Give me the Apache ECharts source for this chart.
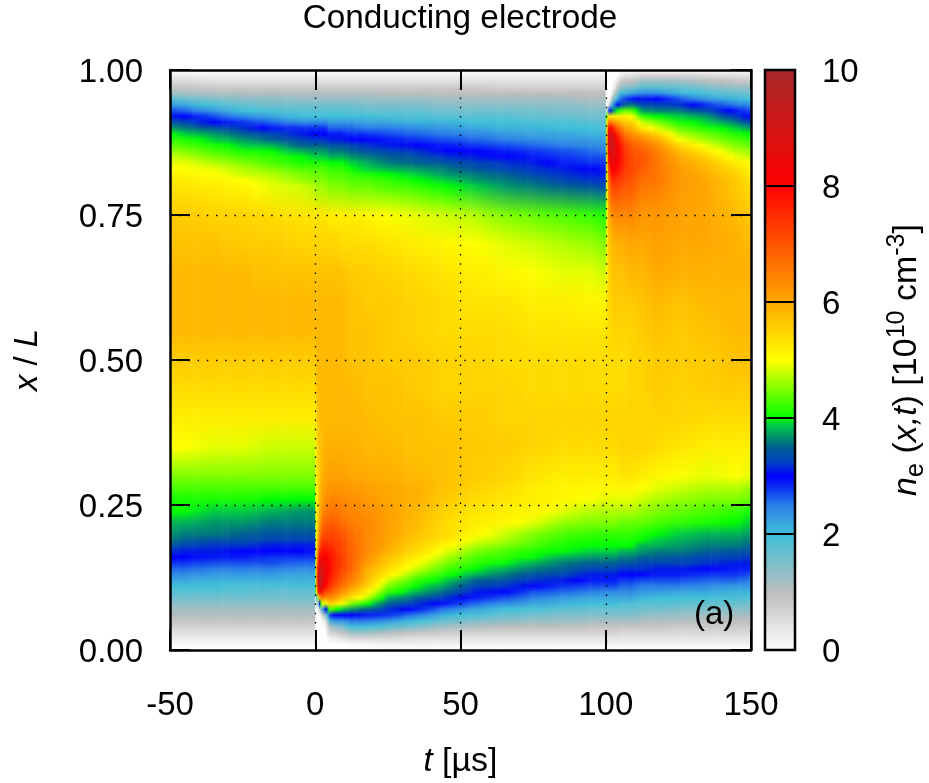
<!DOCTYPE html>
<html><head><meta charset="utf-8">
<style>html,body{margin:0;padding:0;background:#fff}#c{width:929px;height:783px}</style>
<script src="https://cdn.jsdelivr.net/npm/echarts@6/dist/echarts.min.js"></script>
</head><body><div id="c"></div>
<script>
// time of each column [µs]; columns are shaded smoothly inside a phase (pulses start at 0 and 100)
const tBefore = [-50,-45,-35,-25,-15,-5,0];
const tPulse1 = [0,0.25,0.75,1.25,1.75,2.5,3.5,5,7,9,12.5,17.5,25,35,45,55,65,75,85,95,100];
const tPulse2 = [100,100.25,100.75,101.25,101.75,102.5,103.5,105,107,109,112.5,117.5,125,135,145,150];
// x/L levels of each value in a column
const xLevels = [0,.01,.02,.03,.04,.05,.06,.07,.08,.09,.10,.11,.12,.13,.14,.15,.16,.17,.18,.19,.20,
  .22,.24,.26,.28,.30,.35,.40,.45,.50,.55,.60,.65,.70,.75,
  .80,.81,.82,.83,.84,.85,.86,.87,.88,.89,.90,.91,.92,.93,.94,.95,.96,.97,.98,.99,1];
// electron density read per column, in units of 10^9 cm^-3
const ne_m50=[0,1,3,5,7,9,11,12,14,16,18,20,22,24,26,28,30,32,34,36,37, 38,40,41,43,45,50,52,54,56,58,58,58,57,56, 53,52,51,50,49,48,46,44,42,40,37,34,31,27,23,18,12,9,6,3,0];
const ne_m45=[0,1,3,5,7,9,11,12,14,16,18,20,22,24,26,28,30,31,33,35,36, 38,40,41,43,45,50,52,54,56,58,58,58,57,56, 53,52,51,50,49,47,45,43,41,39,36,33,30,26,22,17,12,9,6,3,0];
const ne_m35=[0,1,3,5,7,9,11,12,14,16,18,20,21,23,25,27,29,31,32,34,36, 37,39,41,43,45,49,52,54,56,58,58,58,57,55, 52,51,50,49,47,45,43,41,39,37,34,30,27,23,19,15,11,8,5,3,0];
const ne_m25=[0,1,3,5,7,9,11,12,14,16,18,19,21,23,25,27,29,30,32,34,35, 37,39,41,43,45,49,52,54,56,58,58,58,56,55, 51,50,48,47,45,43,41,39,37,35,32,28,24,20,17,14,11,8,5,3,0];
const ne_m15=[0,1,3,5,7,9,11,12,14,16,17,19,21,23,25,27,28,30,31,33,34, 36,38,40,43,45,48,52,54,56,58,58,57,56,54, 49,48,47,45,43,42,40,38,35,33,29,26,22,19,16,14,11,8,5,3,0];
const ne_m05=[0,1,3,5,7,9,11,12,14,16,17,19,21,22,24,26,28,30,31,33,34, 36,37,40,43,45,48,52,54,56,58,58,57,55,53, 48,46,45,43,41,40,38,35,33,31,28,24,20,18,16,13,11,8,5,3,0];
const ne_m00=[0,1,3,5,7,9,11,12,14,16,17,19,21,22,24,26,28,29,31,33,34, 36,37,40,43,45,48,52,54,56,58,58,57,55,53, 47,45,44,43,41,39,37,35,32,30,28,24,20,18,16,13,11,8,5,3,0];
const ne_p00=[0,0,0,0,0,0,0,0,0,1,40,45,46,46,47,47,47,47,47,47,47, 48,48,49,49,50,52,54,56,57,58,58,57,55,53, 46,45,44,43,41,39,37,35,32,30,28,24,20,18,16,13,11,8,5,3,0];
const ne_p01=[0,0,0,0,0,0,0,0,10,40,70,78,82,80,74,70,66,62,58,56,55, 54,53,53,53,53,55,56,57,58,58,58,57,55,53, 46,45,44,43,41,39,37,35,32,30,28,24,20,18,16,13,11,8,5,3,0];
const ne_p02=[0,0,0,0,0,0,0,5,25,55,82,92,93,90,86,82,77,72,68,65,62, 59,57,56,55,55,56,57,58,58,58,58,57,55,53, 46,45,44,43,41,39,37,35,32,30,28,24,20,18,16,13,11,8,5,3,0];
const ne_p03=[0,0,0,0,0,0,2,12,38,62,84,92,94,93,90,86,81,77,73,70,67, 63,60,59,58,57,57,58,58,58,58,58,57,55,53, 46,45,44,43,41,39,37,35,32,30,28,24,20,18,16,13,11,8,5,3,0];
const ne_p04=[0,0,0,0,0,2,8,24,50,66,76,84,88,89,88,85,82,78,75,72,70, 66,63,61,60,59,58,58,58,58,58,58,57,55,53, 46,45,44,43,41,39,37,35,32,30,28,24,20,18,16,13,11,8,5,3,0];
const ne_p05=[0,0,0,0,1,4,14,28,48,62,72,79,82,84,84,83,81,78,76,73,71, 68,65,63,61,60,59,58,58,58,58,58,57,55,53, 46,45,44,43,41,39,37,35,32,30,28,24,20,18,16,13,11,8,5,3,0];
const ne_p06=[0,0,2,7,11,21,28,44,56,64,70,74,77,78,79,79,78,77,75,73,72, 69,66,64,62,61,59,58,58,58,58,58,57,55,52, 45,44,43,42,40,38,36,34,31,29,26,23,20,18,16,13,11,8,5,3,0];
const ne_p07=[0,0,3,8,14,23,30,41,53,61,66,70,72,74,75,75,75,74,73,72,71, 68,66,64,62,61,59,58,58,58,58,58,57,55,52, 45,44,43,42,40,38,36,34,31,29,26,23,20,18,16,13,11,8,5,3,0];
const ne_p09=[0,0,4,9,15,23,30,39,50,58,63,67,69,71,72,73,73,72,72,71,70, 67,65,64,62,61,59,58,58,58,58,58,57,54,52, 45,44,43,42,40,38,36,34,31,29,26,23,20,18,16,13,11,8,5,3,0];
const ne_p12=[0,1,6,13,20,25,30,37,45,53,58,62,65,66,68,68,68,68,68,67,67, 65,64,63,62,60,59,58,58,57,57,57,56,54,52, 44,43,42,40,39,37,35,33,30,28,26,23,20,18,16,13,11,8,5,3,0];
const ne_p17=[0,1,6,13,20,25,29,35,41,48,52,56,58,59,60,62,63,64,64,64,64, 64,63,62,61,60,58,58,57,57,57,56,56,54,51, 44,43,41,39,38,36,34,32,30,28,25,22,20,17,15,13,11,8,5,3,0];
const ne_p25=[0,2,6,11,18,23,28,32,35,38,42,45,48,52,54,56,57,59,60,60,61, 61,61,60,60,59,58,57,57,56,56,56,55,53,50, 43,42,40,38,36,35,33,31,29,27,25,22,19,17,15,13,10,8,5,3,0];
const ne_p35=[0,2,5,9,15,20,25,29,32,35,38,40,42,45,48,50,52,54,55,56,57, 58,58,59,59,58,57,57,56,56,55,55,54,52,49, 42,40,39,37,35,34,32,30,28,26,24,21,19,17,15,13,10,8,5,3,0];
const ne_p45=[0,2,5,8,12,17,21,25,29,32,35,37,39,41,43,45,47,49,51,53,54, 54,55,56,57,57,57,56,55,55,54,54,53,51,48, 40,39,37,36,34,32,30,29,27,25,23,21,18,16,14,12,10,8,5,3,0];
const ne_p55=[0,2,4,7,11,15,19,22,26,29,31,33,35,38,40,42,43,45,47,49,51, 52,53,54,55,56,56,56,55,55,54,53,52,50,47, 39,37,36,34,33,31,30,28,26,24,22,20,18,16,14,12,10,8,5,3,0];
const ne_p65=[0,2,4,7,10,14,17,20,24,27,30,32,34,36,38,40,42,43,45,47,48, 51,52,53,54,55,56,55,55,54,54,53,51,49,45, 37,36,35,33,32,30,29,27,25,23,21,20,18,16,14,12,10,7,5,3,0];
const ne_p75=[0,2,4,7,10,13,16,19,22,25,27,30,32,34,36,38,40,41,43,44,45, 49,51,52,52,53,55,55,54,54,53,52,50,48,44, 36,35,33,32,31,29,28,26,24,22,21,19,17,16,14,12,10,7,5,3,0];
const ne_p85=[0,2,4,7,10,13,15,18,21,23,26,28,31,33,35,36,38,40,41,42,43, 46,49,51,51,52,54,55,54,54,53,52,49,47,43, 35,33,32,31,29,28,27,25,23,22,20,19,17,15,14,12,10,7,5,3,0];
const ne_p95=[0,2,4,7,9,12,15,17,20,22,25,27,29,31,33,35,37,39,40,41,42, 45,47,50,51,52,54,55,54,54,53,51,49,46,42, 34,32,31,30,28,27,26,24,23,21,20,18,16,15,13,11,10,7,5,3,0];
const ne_p100=[0,2,4,7,9,12,15,17,20,22,24,27,29,31,33,35,37,39,40,41,42, 45,47,49,51,52,54,55,54,54,53,51,48,45,41, 33,32,31,29,28,27,25,24,22,21,19,18,16,15,13,11,10,7,5,3,0];
const ne_q00=[0,2,4,7,9,12,15,17,20,22,24,27,29,31,33,35,37,39,40,41,42, 45,47,49,51,52,54,55,54,54,53,53,50,48,46, 46,46,46,46,46,46,46,46,46,46,46,46,40,2,0,0,0,0,0,0,0];
const ne_q01=[0,2,4,7,9,12,15,17,20,22,24,27,29,31,33,35,37,39,40,41,42, 45,47,49,51,52,54,55,54,54,54,54,54,55,57, 61,62,64,67,70,73,76,79,81,80,72,62,52,24,2,0,0,0,0,0,0];
const ne_q02=[0,2,4,7,9,12,15,17,20,22,24,27,29,31,33,35,37,39,40,41,42, 45,47,49,51,52,54,55,54,54,54,55,55,56,60, 66,68,71,74,78,82,86,89,90,88,80,66,52,28,6,0,0,0,0,0,0];
const ne_q03=[0,2,4,7,9,12,15,17,20,22,24,27,29,31,33,35,37,39,40,41,42, 45,47,49,51,52,54,55,54,54,54,55,56,57,62, 70,73,76,80,84,87,90,92,92,89,80,66,52,33,18,5,0,0,0,0,0];
const ne_q04=[0,2,4,7,9,12,15,17,20,22,24,27,29,31,33,35,37,39,40,41,42, 45,47,49,51,52,54,55,54,54,55,56,57,58,63, 72,75,78,82,85,87,89,90,89,85,76,64,52,36,23,14,5,1,0,0,0];
const ne_q05=[0,2,4,7,9,12,15,17,20,22,24,27,29,31,33,35,37,39,40,41,42, 45,47,49,51,52,54,55,54,54,55,56,57,59,64, 72,74,77,80,82,83,84,84,82,77,70,61,52,39,28,19,11,6,2,0,0];
const ne_q06=[0,2,4,6,9,12,15,17,19,22,24,26,28,30,32,34,36,38,40,41,42, 44,47,49,51,53,55,55,54,54,55,56,57,59,64, 71,73,75,77,78,79,79,78,75,71,66,59,52,42,32,26,20,13,8,3,0];
const ne_q07=[0,2,4,6,9,12,15,17,19,22,24,26,28,30,32,34,36,38,40,41,42, 44,47,49,51,53,55,55,54,54,55,56,58,60,64, 70,71,72,73,74,74,73,72,69,65,60,56,51,44,35,28,21,15,10,5,0];
const ne_q09=[0,2,4,6,9,12,15,17,19,22,24,26,28,30,32,34,36,38,40,41,42, 44,47,49,51,53,55,55,55,55,55,56,58,60,64, 69,70,71,71,71,71,70,69,66,63,59,55,50,43,36,29,22,15,10,5,0];
const ne_q12=[0,2,4,6,9,11,14,16,18,21,23,25,27,30,32,33,35,37,38,40,41, 44,46,48,50,52,55,55,55,55,56,57,58,60,62, 66,67,68,69,70,70,69,67,64,59,52,48,42,37,33,31,24,18,13,7,0];
const ne_q17=[0,2,4,6,9,11,13,16,18,20,23,25,27,29,31,33,35,36,38,39,40, 43,45,47,49,51,54,55,56,56,57,58,60,61,62, 65,66,66,66,66,66,65,63,60,55,49,45,40,36,33,30,24,18,13,7,0];
const ne_q25=[0,2,4,6,8,11,13,15,18,20,22,25,27,29,31,33,34,36,37,38,39, 42,44,46,48,50,53,55,55,56,56,57,59,60,61, 62,62,62,62,61,60,58,55,50,47,44,41,39,36,32,27,21,17,13,7,0];
const ne_q35=[0,2,4,6,8,10,12,15,17,20,22,24,26,28,30,32,33,35,36,37,38, 41,43,45,47,49,52,54,56,56,57,58,59,60,60, 60,60,59,58,57,55,52,49,46,44,41,39,37,33,28,23,19,15,11,6,0];
const ne_q45=[0,2,4,6,8,10,12,14,17,19,21,23,26,28,29,31,33,34,36,37,38, 40,42,45,47,50,52,54,56,57,58,58,59,59,58, 56,56,55,54,52,49,47,45,43,41,39,36,32,29,25,21,17,13,9,5,0];
const ne_q50=[0,2,4,6,8,10,12,14,16,19,21,23,25,27,29,31,32,34,35,36,37, 39,41,44,46,49,52,54,56,57,58,58,59,58,56, 54,53,52,51,50,48,46,44,42,40,37,33,30,27,24,20,16,13,9,5,0];
const colsBefore = [ne_m50,ne_m45,ne_m35,ne_m25,ne_m15,ne_m05,ne_m00];
const colsPulse1 = [ne_p00,ne_p00,ne_p01,ne_p02,ne_p03,ne_p04,ne_p05,ne_p06,ne_p07,ne_p09,ne_p12,ne_p17,ne_p25,ne_p35,ne_p45,ne_p55,ne_p65,ne_p75,ne_p85,ne_p95,ne_p100];
const colsPulse2 = [ne_q00,ne_q00,ne_q01,ne_q02,ne_q03,ne_q04,ne_q05,ne_q06,ne_q07,ne_q09,ne_q12,ne_q17,ne_q25,ne_q35,ne_q45,ne_q50];
// colour scale
const paletteValues = [0,1,2,2.25,2.5,2.75,3,3.25,3.5,3.9,4,5,6,8,10];
const paletteColors = ['#ffffff','#bebebe','#40c0d8','#38a0e0','#2a80e8','#1040f0','#0000ff','#0040c0','#006090','#00d040','#00ff00','#ffff00','#ffa800','#ff0000','#a52a2a'];
const colorbarTicks = [2,4,6,8];
const tTicks = {min:-50,max:150,interval:50};
const xTicks = {min:0,max:1,interval:0.25};

const FONT = '"Liberation Sans", Arial, sans-serif';
function hex(c){return [1,3,5].map(i=>parseInt(c.substr(i,2),16));}
function colorOf(v){
  let i=0; while(i<paletteValues.length-2 && v>paletteValues[i+1]) i++;
  const f=Math.min(1,Math.max(0,(v-paletteValues[i])/(paletteValues[i+1]-paletteValues[i])));
  const a=hex(paletteColors[i]),b=hex(paletteColors[i+1]);
  return 'rgb('+a.map((q,k)=>Math.round(q+(b[k]-q)*f)).join(',')+')';
}
// one data item per pair of neighbouring columns in a phase
const spans=[];
[[tBefore,colsBefore],[tPulse1,colsPulse1],[tPulse2,colsPulse2]].forEach(([ts,cs])=>{
  for(let i=0;i+1<ts.length;i++) spans.push({t0:ts[i],t1:ts[i+1],a:cs[i],b:cs[i+1]});
});
const cellData = spans.map((s,i)=>[s.t0,s.t1,i]);
const axisBase = {type:'value',z:10,
  axisLine:{show:true,onZero:false,lineStyle:{color:'#000',width:2.5}},
  axisTick:{show:true,inside:true,length:20,lineStyle:{color:'#000',width:2}},
  axisLabel:{color:'#000',fontFamily:FONT,fontSize:33},
  splitLine:{show:false},nameTextStyle:{color:'#000',fontFamily:FONT,fontSize:33}};
const dots = {show:true,showMinLine:false,showMaxLine:false,lineStyle:{color:'#000',width:1.3,type:[1.5,7.7]}};
const rt = (o)=>Object.assign({fontFamily:FONT,color:'#000',fontSize:33,lineHeight:50,verticalAlign:'middle'},o||{});
const tickRich = {a:{fontFamily:FONT,color:'#000',fontSize:33,padding:[5,0,0,0]}};
const chart = echarts.init(document.getElementById('c'),null,{renderer:'canvas'});
chart.setOption({
  animation:false,backgroundColor:'#fff',
  title:{text:'Conducting electrode',left:455,textAlign:'center',top:-3,textStyle:{fontFamily:FONT,fontSize:33.3,fontWeight:'normal',color:'#000'}},
  grid:[{left:170,right:178,top:70,bottom:133,outerBoundsMode:'none'},{left:765,width:30,top:70,bottom:133,outerBoundsMode:'none'}],
  xAxis:[
    Object.assign({},axisBase,tTicks,{gridIndex:0,position:'bottom',splitLine:dots,axisLabel:Object.assign({},axisBase.axisLabel,{margin:39}),
      name:'{i|t}{r| [µs]}',nameLocation:'middle',nameGap:87,nameTextStyle:{rich:{i:rt({fontStyle:'italic'}),r:rt({fontSize:34})}}}),
    Object.assign({},axisBase,tTicks,{gridIndex:0,position:'top',axisLabel:{show:false}}),
    {type:'value',gridIndex:1,min:0,max:1,show:false}
  ],
  yAxis:[
    Object.assign({},axisBase,xTicks,{gridIndex:0,position:'left',splitLine:dots,axisLabel:Object.assign({},axisBase.axisLabel,{margin:27,rich:tickRich,formatter:v=>'{a|'+v.toFixed(2)+'}'}),
      name:'{i|x}{r| / }{i|L}',nameLocation:'middle',nameGap:117,nameRotate:90,nameTextStyle:{rich:{i:rt({fontStyle:'italic'}),r:rt()}}}),
    Object.assign({},axisBase,xTicks,{gridIndex:0,position:'right',axisLabel:{show:false}}),
    Object.assign({},axisBase,{gridIndex:1,min:0,max:10,interval:2,position:'right',
      axisLine:{show:false},axisTick:{show:false},
      axisLabel:Object.assign({},axisBase.axisLabel,{margin:27,rich:tickRich,formatter:v=>'{a|'+v+'}'}),
      name:'{i|n}{sub|e}{r| (}{i|x,t}{r|) [10}{sup|10}{r| cm}{sup|-3}{r|]}',nameLocation:'middle',nameGap:90,nameRotate:90,
      nameTextStyle:{rich:{i:rt({fontStyle:'italic',fontSize:34,lineHeight:44}),r:rt({fontSize:34,lineHeight:44}),sub:rt({fontSize:25,lineHeight:44,verticalAlign:'bottom'}),sup:rt({fontSize:25,lineHeight:44,verticalAlign:'top'})}}})
  ],
  graphic:[{type:'text',left:694,top:598,z:20,style:{text:'(a)',fontFamily:FONT,fontSize:33,fill:'#000'}}],
  series:[
    {type:'custom',xAxisIndex:0,yAxisIndex:0,z:1,clip:true,silent:true,encode:{x:[0,1]},data:cellData,
      renderItem(params,api){
        const s=spans[api.value(2)];
        const p0=api.coord([s.t0,0]),p1=api.coord([s.t1,1]);
        const w=p1[0]-p0[0],n=Math.max(1,Math.ceil(w/2)),children=[];
        for(let j=0;j<n;j++){
          const f=n>1?(j+0.5)/n:0.5;
          const stops=s.a.map((v,k)=>({offset:xLevels[k],color:colorOf((v+(s.b[k]-v)*f)/10)}));
          children.push({type:'rect',shape:{x:p0[0]+w*j/n,y:p1[1],width:w/n+0.6,height:p0[1]-p1[1]},
            style:{fill:new echarts.graphic.LinearGradient(0,1,0,0,stops),stroke:null}});
        }
        return {type:'group',children};
      }},
    {type:'custom',xAxisIndex:2,yAxisIndex:2,z:1,silent:true,encode:{x:0,y:1},data:[[0,0]],
      renderItem(params,api){
        const p0=api.coord([0,0]),p1=api.coord([1,10]);
        const stops=paletteValues.map((v,k)=>({offset:v/10,color:paletteColors[k]}));
        const children=[{type:'rect',shape:{x:p0[0],y:p1[1],width:p1[0]-p0[0],height:p0[1]-p1[1]},
          style:{fill:new echarts.graphic.LinearGradient(0,1,0,0,stops),stroke:'#000',lineWidth:2.5}}];
        colorbarTicks.forEach(v=>{
          const a=api.coord([0,v]),b=api.coord([1,v]);
          children.push({type:'line',shape:{x1:a[0],y1:a[1],x2:b[0],y2:b[1]},style:{stroke:'#000',lineWidth:2}});
        });
        return {type:'group',children};
      }}
  ]
});
</script></body></html>
